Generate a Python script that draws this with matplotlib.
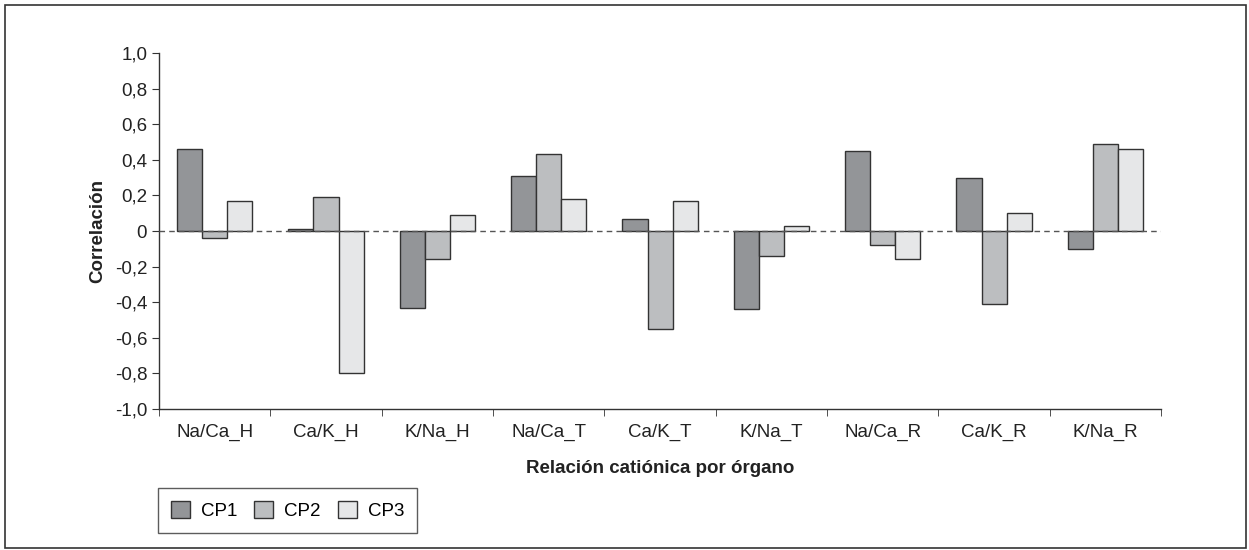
import numpy as np
import matplotlib.pyplot as plt
from matplotlib.patches import Rectangle
from matplotlib import font_manager

# pick a condensed font if available
names = {f.name for f in font_manager.fontManager.ttflist}
fam = 'Liberation Sans Narrow' if 'Liberation Sans Narrow' in names else 'Liberation Sans'
plt.rcParams['font.family'] = [fam, 'DejaVu Sans']

categories = ['Na/Ca_H', 'Ca/K_H', 'K/Na_H', 'Na/Ca_T', 'Ca/K_T',
              'K/Na_T', 'Na/Ca_R', 'Ca/K_R', 'K/Na_R']
cp1 = [0.46, 0.01, -0.43, 0.31, 0.07, -0.44, 0.45, 0.30, -0.10]
cp2 = [-0.04, 0.19, -0.16, 0.43, -0.55, -0.14, -0.08, -0.41, 0.49]
cp3 = [0.17, -0.80, 0.09, 0.18, 0.17, 0.03, -0.16, 0.10, 0.46]
series_names = ['CP1', 'CP2', 'CP3']
colors = ['#939598', '#bcbec0', '#e6e7e8']
yticks = np.round(np.arange(-1.0, 1.01, 0.2), 1)

fig = plt.figure(figsize=(12.49, 5.5), dpi=100)
ax = fig.add_axes([0.1273, 0.2564, 0.8023, 0.6472])

x = np.arange(len(categories))
w = 0.225
for i, (vals, name, c) in enumerate(zip([cp1, cp2, cp3], series_names, colors)):
    ax.bar(x + (i - 1) * w, vals, w, color=c, edgecolor='#333333',
           linewidth=1.0, label=name, zorder=3)

ax.axhline(0, color='#555555', linestyle=(0, (4, 3)), linewidth=1.0, zorder=4)

ax.set_xlim(-0.5, len(categories) - 0.5)
ax.set_ylim(-1.0, 1.0)
ax.set_yticks(yticks)
ax.set_yticklabels([('0' if v == 0 else f'{v:.1f}'.replace('.', ',')) for v in yticks])
ax.set_xticks(x)
ax.set_xticklabels(categories)
ax.set_xticks(np.arange(-0.5, len(categories)), minor=True)
ax.tick_params(axis='x', which='major', length=0, pad=11, labelsize=13.5, colors='#222222')
ax.tick_params(axis='x', which='minor', length=5, color='#333333', direction='out')
ax.tick_params(axis='y', length=5, color='#333333', labelsize=13.5, labelcolor='#222222')

for s in ['top', 'right']:
    ax.spines[s].set_visible(False)
for s in ['left', 'bottom']:
    ax.spines[s].set_color('#333333')
    ax.spines[s].set_linewidth(1.0)

ax.set_ylabel('Correlación', fontsize=13.5, fontweight='bold', labelpad=6, color='#222222')
ax.set_xlabel('Relación catiónica por órgano', fontsize=13.5, fontweight='bold',
              labelpad=13, color='#222222')

leg = fig.legend(loc='lower left', bbox_to_anchor=(158 / 1249, 1 - 533 / 550),
                 borderaxespad=0, ncol=3, frameon=True, fancybox=False, fontsize=13.5,
                 handlelength=1.0, handleheight=1.0, columnspacing=0.9,
                 handletextpad=0.6, borderpad=0.7, edgecolor='#333333')
leg.get_frame().set_linewidth(1.0)

fig.patches.append(Rectangle((5 / 1249, 2 / 550), 1241 / 1249, 543 / 550,
                             transform=fig.transFigure, fill=False,
                             edgecolor='#333333', linewidth=1.2))

fig.savefig('out.png', dpi=100)
